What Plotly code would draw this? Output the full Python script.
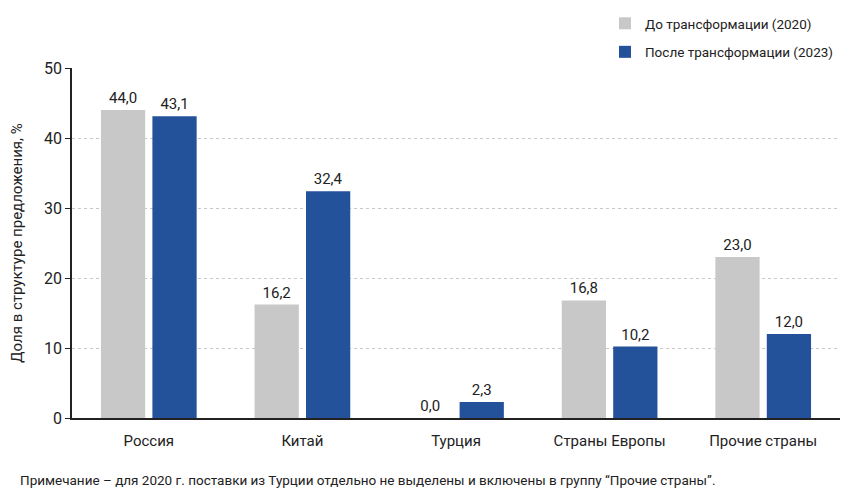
import plotly.graph_objects as go

categories = ["Россия", "Китай", "Турция", "Страны Европы", "Прочие страны"]
before_2020 = [44.0, 16.2, 0.0, 16.8, 23.0]
after_2023 = [43.1, 32.4, 2.3, 10.2, 12.0]
series_names = ["До трансформации (2020)", "После трансформации (2023)"]
y_ticks = [0, 10, 20, 30, 40, 50]

FONT = "Roboto, Arial, sans-serif"

fig = go.Figure()
fig.add_trace(go.Bar(
    x=categories, y=before_2020, name=series_names[0], legendgroup="a",
    marker_color="#c8c8c8", marker_line_width=0,
    texttemplate="%{y:.1f}", textposition="outside",
    textfont=dict(size=15, color="#222"), cliponaxis=False,
))
fig.add_trace(go.Bar(
    x=categories, y=after_2023, name=series_names[1], legendgroup="b",
    marker_color="#23519a", marker_line_width=0,
    texttemplate="%{y:.1f}", textposition="outside",
    textfont=dict(size=15, color="#222"), cliponaxis=False,
))

fig.update_layout(
    width=855, height=500,
    margin=dict(l=64, r=23, t=60, b=90, autoexpand=False),
    paper_bgcolor="white", plot_bgcolor="white",
    separators=", ",
    font=dict(family=FONT, size=15, color="#222"),
    barmode="group", bargap=0.33, bargroupgap=0.14,
    showlegend=True,
    legend=dict(x=0.694, y=1.006, xref="paper", yref="container",
                xanchor="left", yanchor="top",
                traceorder="grouped", tracegroupgap=8,
                font=dict(size=13.5, color="#222"),
                bgcolor="rgba(0,0,0,0)"),
    yaxis=dict(range=[0, 50], tickvals=y_ticks, showgrid=True,
               gridcolor="#c8c8c8", griddash="dot", gridwidth=1,
               showline=True, linecolor="#222", linewidth=1.5,
               ticks="outside", ticklen=5, tickcolor="#222",
               tickfont=dict(size=16), zeroline=False,
               title=dict(text="Доля в структуре предложения, %",
                          font=dict(size=15), standoff=19)),
    xaxis=dict(showline=True, linecolor="#222", linewidth=1.5,
               ticks="", tickfont=dict(size=15), ticklabelstandoff=8),
)

fig.add_annotation(
    text="Примечание – для 2020 г. поставки из Турции отдельно не выделены и включены в группу “Прочие страны”.",
    xref="paper", yref="paper", x=-0.0703, y=-0.15, xanchor="left", yanchor="top",
    showarrow=False, font=dict(size=13.5, color="#222"),
)

fig.write_html("out.html")
